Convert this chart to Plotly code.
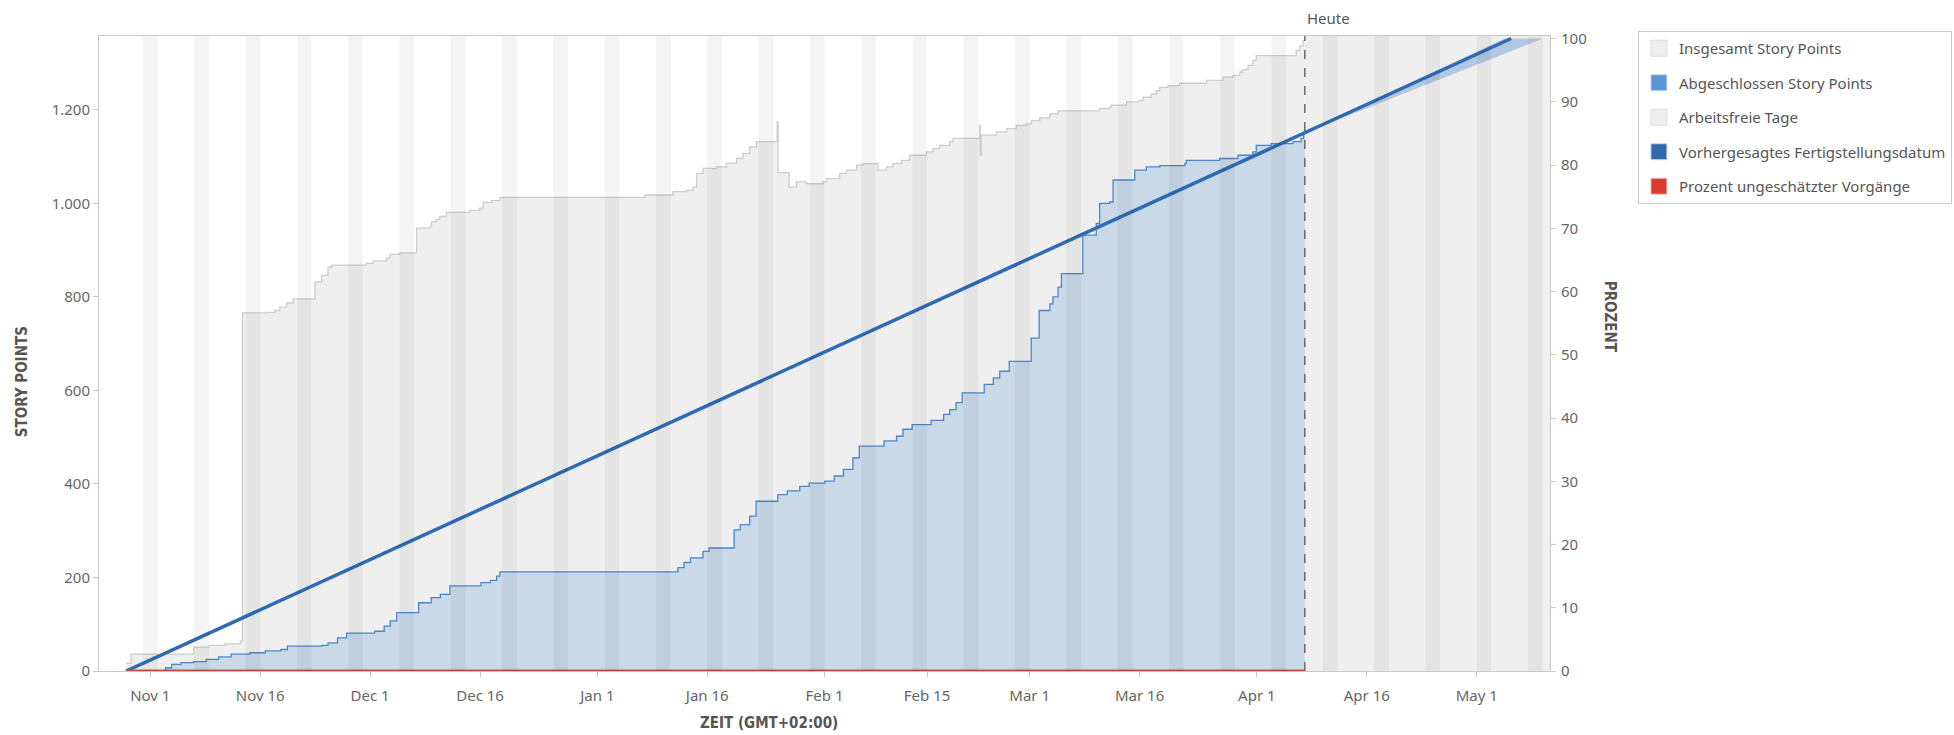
import plotly.graph_objects as go
import pandas as pd

# ---------------- data ----------------
total_dates = [
    "2020-10-28 17:00", "2020-10-29 09:00", "2020-11-06 22:00", "2020-11-09 01:00", "2020-11-11 04:00",
    "2020-11-13 07:00", "2020-11-13 14:00", "2020-11-16 21:00", "2020-11-18 00:00", "2020-11-18 16:00",
    "2020-11-19 14:00", "2020-11-20 12:00", "2020-11-23 11:00", "2020-11-24 09:00", "2020-11-25 06:00",
    "2020-11-25 18:00", "2020-11-30 12:00", "2020-12-01 10:00", "2020-12-03 06:00", "2020-12-03 17:00",
    "2020-12-05 01:00", "2020-12-07 08:00", "2020-12-09 03:00", "2020-12-09 09:00", "2020-12-10 01:00",
    "2020-12-10 12:00", "2020-12-11 10:00", "2020-12-14 14:00", "2020-12-15 23:00", "2020-12-16 10:00",
    "2020-12-17 13:00", "2020-12-18 17:00", "2021-01-07 12:00", "2021-01-11 08:00", "2021-01-13 04:00",
    "2021-01-14 02:00", "2021-01-14 13:00", "2021-01-15 10:00", "2021-01-17 06:00", "2021-01-18 15:00",
    "2021-01-20 00:00", "2021-01-20 21:00", "2021-01-21 19:00", "2021-01-22 17:00", "2021-01-25 13:00",
    "2021-01-25 16:00", "2021-01-27 04:00", "2021-01-28 04:00", "2021-01-29 13:00", "2021-01-31 19:00",
    "2021-02-01 06:00", "2021-02-03 02:00", "2021-02-04 00:00", "2021-02-05 09:00", "2021-02-06 06:00",
    "2021-02-08 07:00", "2021-02-09 11:00", "2021-02-10 08:00", "2021-02-11 12:00", "2021-02-12 15:00",
    "2021-02-14 22:00", "2021-02-15 19:00", "2021-02-16 17:00", "2021-02-18 02:00", "2021-02-18 13:00",
    "2021-02-22 04:00", "2021-02-22 06:00", "2021-02-22 10:00", "2021-02-24 11:00", "2021-02-25 20:00",
    "2021-02-27 04:00", "2021-02-28 13:00", "2021-03-01 06:00", "2021-03-02 09:00", "2021-03-03 18:00",
    "2021-03-04 21:00", "2021-03-10 13:00", "2021-03-11 22:00", "2021-03-12 03:00", "2021-03-14 05:00",
    "2021-03-15 19:00", "2021-03-16 11:00", "2021-03-17 14:00", "2021-03-18 07:00", "2021-03-18 18:00",
    "2021-03-19 21:00", "2021-03-21 11:00", "2021-03-25 03:00", "2021-03-27 09:00", "2021-03-28 18:00",
    "2021-03-29 16:00", "2021-03-30 02:00", "2021-03-30 19:00", "2021-03-31 11:00", "2021-03-31 22:00",
    "2021-04-06 09:00", "2021-04-06 20:00", "2021-04-07 07:00", "2021-04-07 13:00",
]
total_points = [
    16, 36, 51, 55, 58,
    64, 766, 767, 771, 778,
    787, 796, 832, 846, 864,
    868, 872, 877, 883, 891,
    894, 947, 950, 961, 966,
    972, 981, 985, 990, 1002,
    1006, 1013, 1018, 1025, 1028,
    1035, 1064, 1075, 1078, 1086,
    1096, 1107, 1121, 1132, 1175,
    1066, 1035, 1046, 1042, 1046,
    1053, 1064, 1071, 1082, 1085,
    1071, 1078, 1085, 1092, 1103,
    1110, 1117, 1124, 1132, 1139,
    1167, 1103, 1146, 1153, 1160,
    1167, 1170, 1177, 1183, 1192,
    1198, 1203, 1206, 1210, 1217,
    1220, 1227, 1234, 1241, 1248,
    1252, 1257, 1263, 1270, 1274,
    1281, 1286, 1295, 1306, 1316,
    1327, 1337, 1348, 1348,
]

done_dates = [
    "2020-10-28 17:00", "2020-11-03 02:00", "2020-11-03 22:00", "2020-11-05 05:00", "2020-11-06 22:00",
    "2020-11-08 15:00", "2020-11-10 08:00", "2020-11-12 01:00", "2020-11-14 14:00", "2020-11-16 17:00",
    "2020-11-18 20:00", "2020-11-19 17:00", "2020-11-24 10:00", "2020-11-25 06:00", "2020-11-26 13:00",
    "2020-11-27 19:00", "2020-12-01 15:00", "2020-12-02 22:00", "2020-12-03 18:00", "2020-12-04 15:00",
    "2020-12-07 15:00", "2020-12-09 08:00", "2020-12-10 14:00", "2020-12-11 21:00", "2020-12-16 03:00",
    "2020-12-17 10:00", "2020-12-18 06:00", "2020-12-18 17:00", "2021-01-12 00:00", "2021-01-12 20:00",
    "2021-01-13 17:00", "2021-01-15 10:00", "2021-01-16 06:00", "2021-01-19 16:00", "2021-01-20 12:00",
    "2021-01-21 19:00", "2021-01-22 16:00", "2021-01-25 15:00", "2021-01-26 22:00", "2021-01-28 15:00",
    "2021-01-29 22:00", "2021-02-01 01:00", "2021-02-02 08:00", "2021-02-03 14:00", "2021-02-04 21:00",
    "2021-02-05 18:00", "2021-02-09 03:00", "2021-02-10 20:00", "2021-02-11 17:00", "2021-02-12 23:00",
    "2021-02-15 13:00", "2021-02-17 06:00", "2021-02-18 02:00", "2021-02-18 23:00", "2021-02-19 19:00",
    "2021-02-22 19:00", "2021-02-24 01:00", "2021-02-24 22:00", "2021-02-26 05:00", "2021-03-01 05:00",
    "2021-03-02 07:00", "2021-03-03 18:00", "2021-03-04 04:00", "2021-03-04 21:00", "2021-03-05 08:00",
    "2021-03-08 06:00", "2021-03-10 02:00", "2021-03-10 13:00", "2021-03-11 22:00", "2021-03-12 09:00",
    "2021-03-15 08:00", "2021-03-16 22:00", "2021-03-18 18:00", "2021-03-22 04:00", "2021-03-22 09:00",
    "2021-03-26 22:00", "2021-03-29 10:00", "2021-03-31 11:00", "2021-03-31 22:00", "2021-04-02 23:00",
    "2021-04-05 22:00", "2021-04-07 01:00", "2021-04-07 09:00", "2021-04-07 13:00",
]
done_points = [
    0, 7, 14, 18, 20,
    25, 30, 36, 39, 43,
    46, 53, 55, 60, 71,
    81, 85, 96, 107, 125,
    146, 157, 164, 182, 189,
    194, 203, 212, 221, 232,
    242, 256, 263, 302, 313,
    331, 363, 377, 385, 395,
    402, 406, 417, 431, 456,
    481, 492, 502, 517, 527,
    536, 549, 559, 574, 595,
    613, 627, 641, 662, 712,
    771, 785, 800, 821, 850,
    932, 957, 1000, 1003, 1050,
    1071, 1078, 1081, 1085, 1092,
    1096, 1103, 1110, 1124, 1128,
    1132, 1139, 1149, 1149,
]

today = "2021-04-07 13:00"
forecast_dates = ["2020-10-28 17:00", "2021-05-05 17:00"]
forecast_pct = [0, 100]
cone_dates = ["2021-04-07 13:00", "2021-05-04 20:00", "2021-05-10 00:00", "2021-04-07 13:00"]
cone_pct = [85.1, 100, 100, 85.1]
unestimated_dates = ["2020-10-28 17:00", "2021-04-07 13:00"]
unestimated_pct = [0, 0]

x_range = ["2020-10-25", "2021-05-11"]
tick_dates = ["2020-11-01", "2020-11-16", "2020-12-01", "2020-12-16", "2021-01-01", "2021-01-16",
              "2021-02-01", "2021-02-15", "2021-03-01", "2021-03-16", "2021-04-01", "2021-04-16",
              "2021-05-01"]
tick_labels = ["Nov 1", "Nov 16", "Dec 1", "Dec 16", "Jan 1", "Jan 16", "Feb 1", "Feb 15",
               "Mar 1", "Mar 16", "Apr 1", "Apr 16", "May 1"]

legend_names = ["Insgesamt Story Points", "Abgeschlossen Story Points", "Arbeitsfreie Tage",
                "Vorhergesagtes Fertigstellungsdatum", "Prozent ungeschätzter Vorgänge"]
legend_colors = ["#eeeeee", "#5b95d5", "#eeeeee", "#2f68ad", "#d83b30"]
legend_borders = ["#dddddd", "#c9d9ee", "#dddddd", "#c9d9ee", "#f0c9c5"]

# ---------------- figure ----------------
FONT = "Noto Sans, Open Sans, sans-serif"
TITLE_FONT = "DejaVu Sans Condensed, Liberation Sans Narrow, sans-serif"
fig = go.Figure()

fig.add_trace(go.Scatter(
    x=total_dates, y=total_points, mode="lines", line=dict(color="#cdcdcd", width=1.3, shape="hv"),
    fill="tozeroy", fillcolor="#efefef", showlegend=False, hoverinfo="skip"))
fig.add_trace(go.Scatter(
    x=done_dates, y=done_points, mode="lines", line=dict(color="#4d86c6", width=1.3, shape="hv"),
    fill="tozeroy", fillcolor="#c9d9e8", showlegend=False, hoverinfo="skip"))
fig.add_trace(go.Scatter(
    x=cone_dates, y=cone_pct, yaxis="y2", mode="lines", line=dict(width=0),
    fill="toself", fillcolor="rgba(80,135,200,0.38)", showlegend=False, hoverinfo="skip"))
fig.add_trace(go.Scatter(
    x=forecast_dates, y=forecast_pct, yaxis="y2", mode="lines",
    line=dict(color="#2f6bb2", width=3.5), showlegend=False, hoverinfo="skip"))
fig.add_trace(go.Scatter(
    x=unestimated_dates, y=unestimated_pct, yaxis="y2", mode="lines",
    line=dict(color="#d9443a", width=3), showlegend=False, hoverinfo="skip", cliponaxis=False))

for i, (nm, col, bd) in enumerate(zip(legend_names, legend_colors, legend_borders)):
    fig.add_trace(go.Scatter(
        x=[None], y=[None], mode="markers", name=nm, legendgroup=str(i),
        marker=dict(symbol="square", size=16, color=col, line=dict(color=bd, width=1))))

# future region and non-working days
fig.add_vrect(x0=today, x1=x_range[1], fillcolor="#efefef", line_width=0, layer="below")
for s in pd.date_range(x_range[0], x_range[1], freq="W-SAT"):
    fig.add_vrect(x0=s, x1=s + pd.Timedelta(days=2), fillcolor="rgba(0,0,0,0.045)",
                  line_width=0, layer="above")

fig.add_shape(type="line", x0=today, x1=today, y0=0, y1=1, yref="paper",
              line=dict(color="#6a6a6a", width=1.5, dash="dash"), layer="above")

fig.add_annotation(x=today, y=1.029, xref="x", yref="paper", text="Heute", showarrow=False,
                   xanchor="left", yanchor="middle", font=dict(family=FONT, size=15, color="#555555"))
fig.add_annotation(x=-0.053, y=0.455, xref="paper", yref="paper", text="<b>STORY POINTS</b>",
                   showarrow=False, textangle=-90, xanchor="center", yanchor="middle",
                   font=dict(family=TITLE_FONT, size=15, color="#555555"))
fig.add_annotation(x=1.041, y=0.557, xref="paper", yref="paper", text="<b>PROZENT</b>",
                   showarrow=False, textangle=90, xanchor="center", yanchor="middle",
                   font=dict(family=TITLE_FONT, size=15, color="#555555"))
fig.add_annotation(x=0.4617, y=-0.082, xref="paper", yref="paper", text="<b>ZEIT (GMT+02:00)</b>",
                   showarrow=False, xanchor="center", yanchor="middle",
                   font=dict(family=TITLE_FONT, size=15, color="#555555"))

axis_line = "#c8c8c8"
tick_font = dict(family=FONT, size=15, color="#666666")
fig.update_layout(
    width=1954, height=735,
    margin=dict(l=99, r=404, t=36, b=64, autoexpand=False),
    paper_bgcolor="white", plot_bgcolor="white",
    separators=",.",
    font=dict(family=FONT, size=14, color="#666666"),
    xaxis=dict(type="date", range=x_range, tickvals=tick_dates, ticktext=tick_labels,
               showgrid=False, zeroline=False, showline=True, linecolor=axis_line, mirror=True,
               ticks="outside", ticklen=5, tickcolor=axis_line, ticklabelstandoff=6,
               tickfont=tick_font, layer="below traces"),
    yaxis=dict(range=[0, 1358], dtick=200, separatethousands=True, showgrid=False, zeroline=False,
               showline=True, linecolor=axis_line, ticks="outside", ticklen=5, tickcolor=axis_line,
               tickfont=tick_font),
    yaxis2=dict(range=[0, 100.4], dtick=10, overlaying="y", side="right", showgrid=False,
                zeroline=False, showline=True, linecolor=axis_line, ticks="outside", ticklen=5,
                tickcolor=axis_line, ticklabelstandoff=2, tickfont=tick_font),
    legend=dict(x=1.0606, y=1.0079, xanchor="left", yanchor="top", traceorder="grouped",
                tracegroupgap=12, bordercolor="#cccccc", borderwidth=1, bgcolor="white",
                font=dict(family=FONT, size=15, color="#555555")),
    hovermode=False,
)

fig.write_html("out.html", config={"displayModeBar": False},
               post_script="document.body.style.margin='0px';document.body.style.overflow='hidden';")
